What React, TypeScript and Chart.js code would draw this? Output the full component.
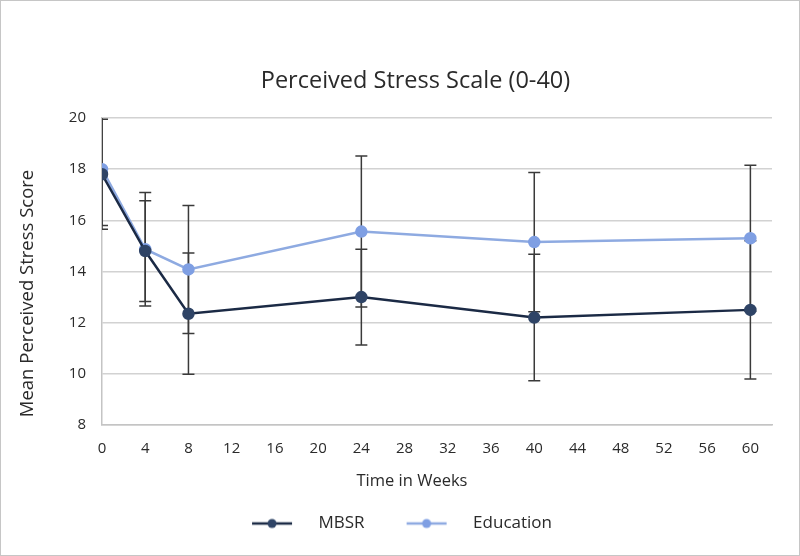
import React, { useEffect, useRef } from 'react';
import { Chart, registerables } from 'chart.js';

Chart.register(...registerables);

const titleText = 'Perceived Stress Scale (0-40)';
const xTitle = 'Time in Weeks';
const yTitle = 'Mean Perceived Stress Score';
const seriesNames = ['MBSR', 'Education'];

const weeks = [0, 4, 8, 24, 40, 60];
const mbsrMean = [17.8, 14.8, 12.35, 13.0, 12.2, 12.5];
const mbsrErr = [2.15, 1.97, 2.37, 1.87, 2.47, 2.7];
const eduMean = [18.0, 14.87, 14.08, 15.56, 15.15, 15.3];
const eduErr = [2.2, 2.22, 2.5, 2.95, 2.72, 2.85];

const xTickValues = [0, 4, 8, 12, 16, 20, 24, 28, 32, 36, 40, 44, 48, 52, 56, 60];
const yTickValues = [8, 10, 12, 14, 16, 18, 20];

const FONT = "'Open Sans', 'Noto Sans', sans-serif";
const TEXT = '#2a2a2a';
const MBSR_LINE = '#1b2a45';
const MBSR_POINT = '#2f4466';
const EDU_LINE = '#8eaae1';
const EDU_POINT = '#7f9fe3';

function legendImage(lineColor: string, dotColor: string): HTMLCanvasElement {
  const c = document.createElement('canvas');
  c.width = 90;
  c.height = 12;
  const g = c.getContext('2d')!;
  g.strokeStyle = lineColor;
  g.lineWidth = 2.5;
  g.beginPath();
  g.moveTo(32, 6);
  g.lineTo(72, 6);
  g.stroke();
  g.fillStyle = dotColor;
  g.beginPath();
  g.arc(52, 6, 4.5, 0, Math.PI * 2);
  g.fill();
  return c;
}

export default function App() {
  const ref = useRef<HTMLCanvasElement | null>(null);

  useEffect(() => {
    document.body.style.margin = '0';
    const canvas = ref.current;
    if (!canvas) return;

    const errSets = [
      { mean: mbsrMean, err: mbsrErr },
      { mean: eduMean, err: eduErr },
    ];

    const errorBars = {
      id: 'errorBars',
      beforeDatasetsDraw(chart: any) {
        const { ctx, chartArea } = chart;
        const xs = chart.scales.x;
        const ys = chart.scales.y;
        ctx.save();
        ctx.beginPath();
        ctx.rect(chartArea.left, chartArea.top, chartArea.right - chartArea.left, chartArea.bottom - chartArea.top);
        ctx.clip();
        ctx.strokeStyle = '#3a3a3a';
        ctx.lineWidth = 1.5;
        errSets.forEach(({ mean, err }) => {
          weeks.forEach((w, i) => {
            const px = xs.getPixelForValue(w);
            const top = ys.getPixelForValue(mean[i] + err[i]);
            const bot = ys.getPixelForValue(mean[i] - err[i]);
            ctx.beginPath();
            ctx.moveTo(px, top);
            ctx.lineTo(px, bot);
            ctx.moveTo(px - 6, top);
            ctx.lineTo(px + 6, top);
            ctx.moveTo(px - 6, bot);
            ctx.lineTo(px + 6, bot);
            ctx.stroke();
          });
        });
        ctx.restore();
      },
    };

    const textPlugin = {
      id: 'textPlugin',
      afterDraw(chart: any) {
        const { ctx } = chart;
        ctx.save();
        ctx.fillStyle = TEXT;
        ctx.textAlign = 'center';
        ctx.textBaseline = 'middle';
        ctx.font = `23.5px ${FONT}`;
        ctx.fillText(titleText, 415.5, 81.5);
        ctx.font = `16.5px ${FONT}`;
        ctx.fillText(xTitle, 412, 481);
        ctx.save();
        ctx.translate(27.5, 293.5);
        ctx.rotate(-Math.PI / 2);
        ctx.font = `18.5px ${FONT}`;
        ctx.fillText(yTitle, 0, 0);
        ctx.restore();
        ctx.restore();
      },
    };

    const imgs = [legendImage(MBSR_LINE, MBSR_POINT), legendImage(EDU_LINE, EDU_POINT)];

    const chart = new Chart(canvas, {
      type: 'line',
      data: {
        datasets: [
          {
            label: seriesNames[0],
            data: weeks.map((w, i) => ({ x: w, y: mbsrMean[i] })),
            borderColor: MBSR_LINE,
            backgroundColor: MBSR_POINT,
            pointBackgroundColor: MBSR_POINT,
            pointBorderColor: MBSR_POINT,
            borderWidth: 2.5,
            pointRadius: 5,
            tension: 0,
          },
          {
            label: seriesNames[1],
            data: weeks.map((w, i) => ({ x: w, y: eduMean[i] })),
            borderColor: EDU_LINE,
            backgroundColor: EDU_POINT,
            pointBackgroundColor: EDU_POINT,
            pointBorderColor: EDU_POINT,
            borderWidth: 2.5,
            pointRadius: 5,
            tension: 0,
          },
        ],
      },
      options: {
        responsive: false,
        animation: false,
        layout: { padding: { left: 0, right: 28, top: 118, bottom: 14 } },
        plugins: {
          tooltip: { enabled: false },
          title: { display: false },
          legend: {
            position: 'bottom',
            labels: {
              usePointStyle: true,
              pointStyleWidth: 90,
              padding: 10,
              color: TEXT,
              font: { family: FONT, size: 17 },
              generateLabels: (ch: any) => {
                const items = (Chart.defaults.plugins.legend.labels as any).generateLabels(ch);
                items.forEach((it: any, i: number) => {
                  it.pointStyle = imgs[i];
                });
                return items;
              },
            },
          },
        },
        scales: {
          x: {
            type: 'linear',
            min: 0,
            max: 62,
            afterFit: (s: any) => {
              s.height = 80;
            },
            afterBuildTicks: (s: any) => {
              s.ticks = xTickValues.map((v) => ({ value: v }));
            },
            ticks: {
              includeBounds: false,
              padding: 15,
              color: TEXT,
              font: { family: FONT, size: 15 },
              maxRotation: 0,
            },
            grid: { display: false, drawTicks: false },
            border: { display: true, color: '#c4c4c4', width: 1.5 },
            title: { display: false },
          },
          y: {
            type: 'linear',
            min: 8,
            max: 20,
            afterFit: (s: any) => {
              s.width = 102;
            },
            afterBuildTicks: (s: any) => {
              s.ticks = yTickValues.map((v) => ({ value: v }));
            },
            ticks: {
              padding: 16,
              color: TEXT,
              font: { family: FONT, size: 15 },
            },
            grid: { color: '#d2d2d2', lineWidth: 1.5, drawTicks: false },
            border: { display: true, color: '#c4c4c4', width: 1.5 },
            title: { display: false },
          },
        },
      },
      plugins: [errorBars, textPlugin],
    } as any);

    return () => {
      chart.destroy();
    };
  }, []);

  return (
    <div style={{ position: 'relative', width: 800, height: 556, background: '#fff' }}>
      <canvas ref={ref} width={800} height={556} style={{ position: 'absolute', left: 0, top: 0 }} />
      <div
        style={{
          position: 'absolute',
          inset: 0,
          border: '1px solid #c6c6c6',
          pointerEvents: 'none',
        }}
      />
    </div>
  );
}
